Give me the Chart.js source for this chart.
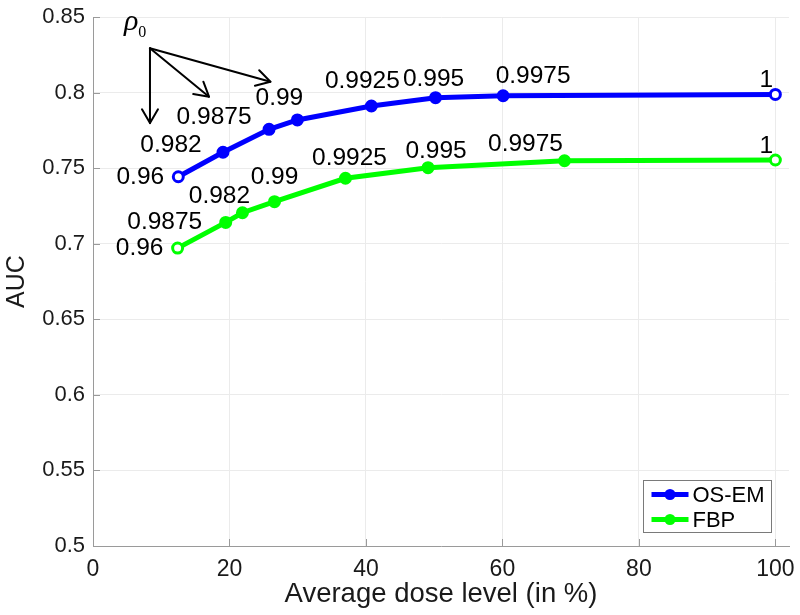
<!DOCTYPE html>
<html>
<head>
<meta charset="utf-8">
<script src="https://cdn.jsdelivr.net/npm/chart.js@4.4.1/dist/chart.umd.min.js"></script>
<style>
html,body{margin:0;padding:0;background:#fff;}
canvas{display:block;}
</style>
</head>
<body>
<canvas id="c" width="800" height="615"></canvas>
<script>
// ---- data ----
const osemDose = [12.5, 19.05, 25.8, 29.95, 40.8, 50.2, 60.1, 100];
const osemAUC  = [0.7443, 0.7605, 0.7757, 0.7819, 0.7911, 0.7966, 0.7979, 0.7988];
const osemRho  = ['0.96', '0.982', '0.9875', '0.99', '0.9925', '0.995', '0.9975', '1'];

const fbpDose  = [12.4, 19.45, 21.9, 26.6, 37.0, 49.1, 69.1, 100];
const fbpAUC   = [0.6971, 0.7141, 0.7205, 0.7278, 0.7433, 0.7503, 0.7549, 0.7554];
const fbpRho   = ['0.96', '0.9875', '0.982', '0.99', '0.9925', '0.995', '0.9975', '1'];

const seriesNames = ['OS-EM', 'FBP'];
const xTicks = [0, 20, 40, 60, 80, 100];
const yTicks = [0.5, 0.55, 0.6, 0.65, 0.7, 0.75, 0.8, 0.85];

// ---- style (label offsets in pixels, annotation anchors in data units) ----
const osemLabelOffsets = [[-38,0],[-52,-7],[-55,-12],[-18,-22],[-9,-25],[-2,-18],[30,-19],[-9,-14]];
const fbpLabelOffsets  = [[-38,0],[-61,0],[-23,-16],[0,-24],[4,-20],[8,-16],[-39,-16],[-9,-14]];
const rhoOrigin = {x: 8.35, y: 0.8293};
const rhoTips = [{x: 8.35, y: 0.7798}, {x: 17.0, y: 0.7973}, {x: 26.0, y: 0.8072}];
const rhoText = {x: 5.6, y: 0.8415};

const BLUE = '#0000ff', GREEN = '#00ff00';
const AXIS = '#9a9a9a', GRID = '#ebebeb', TXT = '#1a1a1a';

function toPts(xs, ys){ return xs.map((x,i)=>({x:x, y:ys[i]})); }
function hollowBg(n, c){ return Array.from({length:n}, (_,i)=> (i===0||i===n-1) ? '#ffffff' : c); }
function noPad(s){ s.paddingTop = 0; s.paddingBottom = 0; s.paddingLeft = 0; s.paddingRight = 0; }

const labelPlugin = {
  id: 'pointLabels',
  afterDatasetsDraw(chart){
    const ctx = chart.ctx;
    const sets = [[osemRho, osemLabelOffsets],[fbpRho, fbpLabelOffsets]];
    ctx.save();
    ctx.font = '24.5px "Liberation Sans", Arial, sans-serif';
    ctx.fillStyle = '#000';
    ctx.textAlign = 'center';
    ctx.textBaseline = 'middle';
    sets.forEach((s, di)=>{
      const meta = chart.getDatasetMeta(di);
      meta.data.forEach((pt, i)=>{
        const off = s[1][i];
        ctx.fillText(s[0][i], pt.x + off[0], pt.y + off[1]);
      });
    });
    ctx.restore();
  }
};

function arrow(ctx, x0, y0, x1, y1){
  ctx.beginPath(); ctx.moveTo(x0,y0); ctx.lineTo(x1,y1); ctx.stroke();
  const a = Math.atan2(y1-y0, x1-x0), L = 16, h = Math.PI/6;
  ctx.beginPath();
  ctx.moveTo(x1 - L*Math.cos(a-h), y1 - L*Math.sin(a-h));
  ctx.lineTo(x1, y1);
  ctx.lineTo(x1 - L*Math.cos(a+h), y1 - L*Math.sin(a+h));
  ctx.stroke();
}

const annotPlugin = {
  id: 'rhoAnnot',
  afterDatasetsDraw(chart){
    const ctx = chart.ctx, xs = chart.scales.x, ys = chart.scales.y;
    const ox = xs.getPixelForValue(rhoOrigin.x), oy = ys.getPixelForValue(rhoOrigin.y);
    ctx.save();
    ctx.strokeStyle = '#000';
    ctx.lineWidth = 2;
    ctx.lineCap = 'round';
    ctx.lineJoin = 'round';
    rhoTips.forEach(t=>{
      arrow(ctx, ox, oy, xs.getPixelForValue(t.x), ys.getPixelForValue(t.y));
    });
    const tx = xs.getPixelForValue(rhoText.x), ty = ys.getPixelForValue(rhoText.y);
    ctx.fillStyle = '#000';
    ctx.textBaseline = 'alphabetic';
    ctx.textAlign = 'center';
    ctx.font = 'italic 30px "Liberation Serif", "DejaVu Serif", serif';
    ctx.fillText('\u03c1', tx, ty);
    ctx.font = '16px "Liberation Serif", "DejaVu Serif", serif';
    ctx.textAlign = 'left';
    ctx.fillText('0', tx + 7, ty + 7);
    ctx.restore();
  }
};

const framePlugin = {
  id: 'frame',
  afterDatasetsDraw(chart){
    const ctx = chart.ctx, a = chart.chartArea, xs = chart.scales.x, ys = chart.scales.y;
    ctx.save();
    ctx.strokeStyle = AXIS;
    ctx.lineWidth = 1;
    ctx.beginPath();
    xTicks.forEach(v=>{ const p = Math.round(xs.getPixelForValue(v)) + 0.5; ctx.moveTo(p, a.bottom); ctx.lineTo(p, a.bottom - 7); });
    yTicks.forEach(v=>{ const p = Math.round(ys.getPixelForValue(v)) + 0.5; ctx.moveTo(a.left, p); ctx.lineTo(a.left + 7, p); });
    ctx.stroke();

    // legend
    const bx = 643.5, by = 480.5, bw = 128, bh = 52;
    ctx.fillStyle = '#fff';
    ctx.fillRect(bx, by, bw, bh);
    ctx.strokeStyle = '#7a7a7a';
    ctx.strokeRect(bx, by, bw, bh);
    const cols = [BLUE, GREEN];
    seriesNames.forEach((n, i)=>{
      const y = by + 14 + i*25;
      ctx.strokeStyle = cols[i]; ctx.lineWidth = 5; ctx.lineCap = 'butt';
      ctx.beginPath(); ctx.moveTo(bx + 8, y); ctx.lineTo(bx + 45, y); ctx.stroke();
      ctx.fillStyle = cols[i];
      ctx.beginPath(); ctx.arc(bx + 26.5, y, 5.5, 0, Math.PI*2); ctx.fill();
      ctx.fillStyle = '#000';
      ctx.font = '22px "Liberation Sans", Arial, sans-serif';
      ctx.textAlign = 'left'; ctx.textBaseline = 'middle';
      ctx.fillText(n, bx + 49, y + 1);
    });
    ctx.restore();
  }
};

function fmt(v){ return String(Number(v.toFixed(2))); }

new Chart(document.getElementById('c'), {
  type: 'line',
  data: {
    datasets: [
      {
        label: seriesNames[0],
        data: toPts(osemDose, osemAUC),
        borderColor: BLUE, backgroundColor: BLUE,
        borderWidth: 5, tension: 0,
        pointRadius: 5, pointBorderWidth: 3,
        pointBorderColor: BLUE, pointBackgroundColor: hollowBg(osemDose.length, BLUE)
      },
      {
        label: seriesNames[1],
        data: toPts(fbpDose, fbpAUC),
        borderColor: GREEN, backgroundColor: GREEN,
        borderWidth: 5, tension: 0,
        pointRadius: 5, pointBorderWidth: 3,
        pointBorderColor: GREEN, pointBackgroundColor: hollowBg(fbpDose.length, GREEN)
      }
    ]
  },
  options: {
    responsive: false,
    animation: false,
    layout: { padding: { left: 0, right: 11, top: 17, bottom: 0 } },
    plugins: { legend: { display: false }, tooltip: { enabled: false } },
    scales: {
      x: {
        type: 'linear', min: 0, max: 102,
        afterBuildTicks(s){ s.ticks = xTicks.map(v=>({value:v})); },
        afterFit(s){ s.height = 69; noPad(s); },
        ticks: { color: TXT, font: { size: 23, family: '"Liberation Sans", Arial, sans-serif' }, padding: 10, maxRotation: 0, callback: v => String(v) },
        grid: { color: GRID, drawTicks: false },
        border: { color: AXIS, width: 1 },
        title: { display: true, text: 'Average dose level (in %)', color: TXT,
                 font: { size: 27.5, family: '"Liberation Sans", Arial, sans-serif' }, padding: { top: 0, bottom: 4 } }
      },
      y: {
        min: 0.5, max: 0.85,
        afterBuildTicks(s){ s.ticks = yTicks.map(v=>({value:v})); },
        afterFit(s){ s.width = 93; noPad(s); },
        ticks: { color: TXT, font: { size: 22, family: '"Liberation Sans", Arial, sans-serif' }, padding: 8, callback: v => fmt(v) },
        grid: { color: GRID, drawTicks: false },
        border: { color: AXIS, width: 1 },
        title: { display: true, text: 'AUC', color: TXT,
                 font: { size: 25, family: '"Liberation Sans", Arial, sans-serif' }, padding: { top: 2, bottom: 0 } }
      }
    }
  },
  plugins: [labelPlugin, annotPlugin, framePlugin]
});
</script>
</body>
</html>
